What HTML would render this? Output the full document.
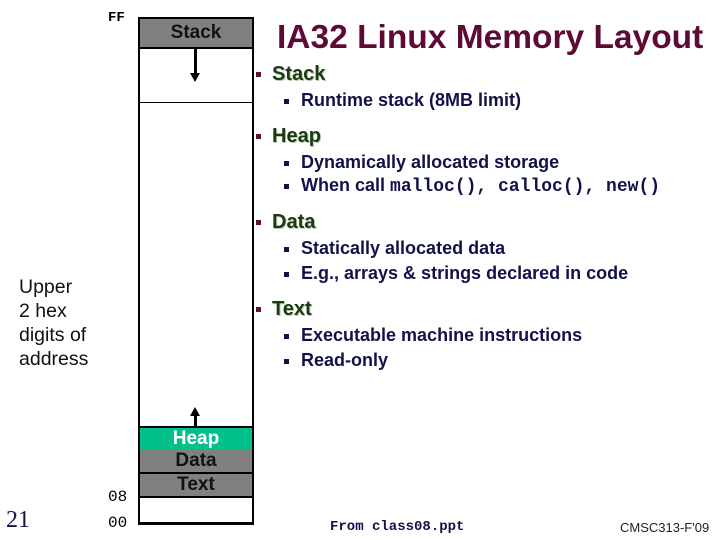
<!DOCTYPE html>
<html><head><meta charset="utf-8"><style>
body{margin:0;width:720px;height:540px;background:#fff;position:relative;overflow:hidden;font-family:"Liberation Sans",Arial,sans-serif}
.a{position:absolute;white-space:nowrap}
.h{color:#1a3a12;font-size:20px;font-weight:bold;text-shadow:1px 1px 0 #b8c8b0}
.s{color:#12124a;font-size:18px;font-weight:bold}
.b{display:inline-block;width:5px;height:5px;background:#5a1038;vertical-align:middle;margin-right:11px}
.sb{display:inline-block;width:5px;height:5px;background:#12124a;vertical-align:middle;margin-right:12px}
.m{font-family:"Liberation Mono",monospace;font-weight:bold}
.lbl{text-align:center;font-size:19px;font-weight:bold}
</style></head><body>
<div class="a m" style="left:108px;top:10px;font-size:14px">FF</div>
<div class="a" style="left:138px;top:17px;width:112px;height:503px;border:2px solid #000;border-bottom-width:3px"></div>
<div class="a lbl" style="left:140px;top:19px;width:112px;height:28px;background:#808080;border-bottom:2px solid #000;line-height:28px;color:#111">Stack</div>
<div class="a" style="left:140px;top:102px;width:112px;height:1px;background:#000"></div>
<div class="a" style="left:194px;top:49px;width:3px;height:26px;background:#000"></div>
<div class="a" style="left:190px;top:73px;width:0;height:0;border-left:5px solid transparent;border-right:5px solid transparent;border-top:9px solid #000"></div>
<div class="a" style="left:194px;top:416px;width:3px;height:10px;background:#000"></div>
<div class="a" style="left:190px;top:407px;width:0;height:0;border-left:5px solid transparent;border-right:5px solid transparent;border-bottom:9px solid #000"></div>
<div class="a lbl" style="left:140px;top:426px;width:112px;height:22px;background:#00c08c;border-top:2px solid #000;border-bottom:2px solid #000;line-height:22px;color:#fff">Heap</div>
<div class="a lbl" style="left:140px;top:450px;width:112px;height:22px;background:#808080;border-bottom:2px solid #000;line-height:22px;color:#111">Data</div>
<div class="a lbl" style="left:140px;top:474px;width:112px;height:22px;background:#808080;border-bottom:2px solid #000;line-height:22px;color:#111">Text</div>
<div class="a m" style="left:108px;top:488px;font-size:16px;font-weight:normal">08</div>
<div class="a m" style="left:108px;top:514px;font-size:16px;font-weight:normal">00</div>
<div class="a" style="left:6px;top:507px;font-family:'Liberation Serif',serif;font-size:24px;color:#12124a">21</div>
<div class="a" style="left:19px;top:275px;font-size:19.5px;line-height:24px;color:#111">Upper<br>2 hex<br>digits of<br>address</div>
<div class="a" style="left:277px;top:19px;font-size:33.5px;font-weight:bold;color:#5e0a36">IA32 Linux Memory Layout</div>
<div class="a h" style="left:256px;top:63px"><span class="b"></span>Stack</div>
<div class="a s" style="left:284px;top:90px"><span class="sb"></span>Runtime stack (8MB limit)</div>
<div class="a h" style="left:256px;top:125px"><span class="b"></span>Heap</div>
<div class="a s" style="left:284px;top:152px"><span class="sb"></span>Dynamically allocated storage</div>
<div class="a s" style="left:284px;top:175px"><span class="sb"></span>When call <span class="m" style="font-size:18px">malloc(), calloc(), new()</span></div>
<div class="a h" style="left:256px;top:211px"><span class="b"></span>Data</div>
<div class="a s" style="left:284px;top:238px"><span class="sb"></span>Statically allocated data</div>
<div class="a s" style="left:284px;top:263px"><span class="sb"></span>E.g., arrays &amp; strings declared in code</div>
<div class="a h" style="left:256px;top:298px"><span class="b"></span>Text</div>
<div class="a s" style="left:284px;top:325px"><span class="sb"></span>Executable machine instructions</div>
<div class="a s" style="left:284px;top:350px"><span class="sb"></span>Read-only</div>
<div class="a m" style="left:330px;top:519px;font-size:14px;color:#12124a">From class08.ppt</div>
<div class="a" style="left:620px;top:520px;font-size:13px;color:#222">CMSC313-F'09</div>
</body></html>
